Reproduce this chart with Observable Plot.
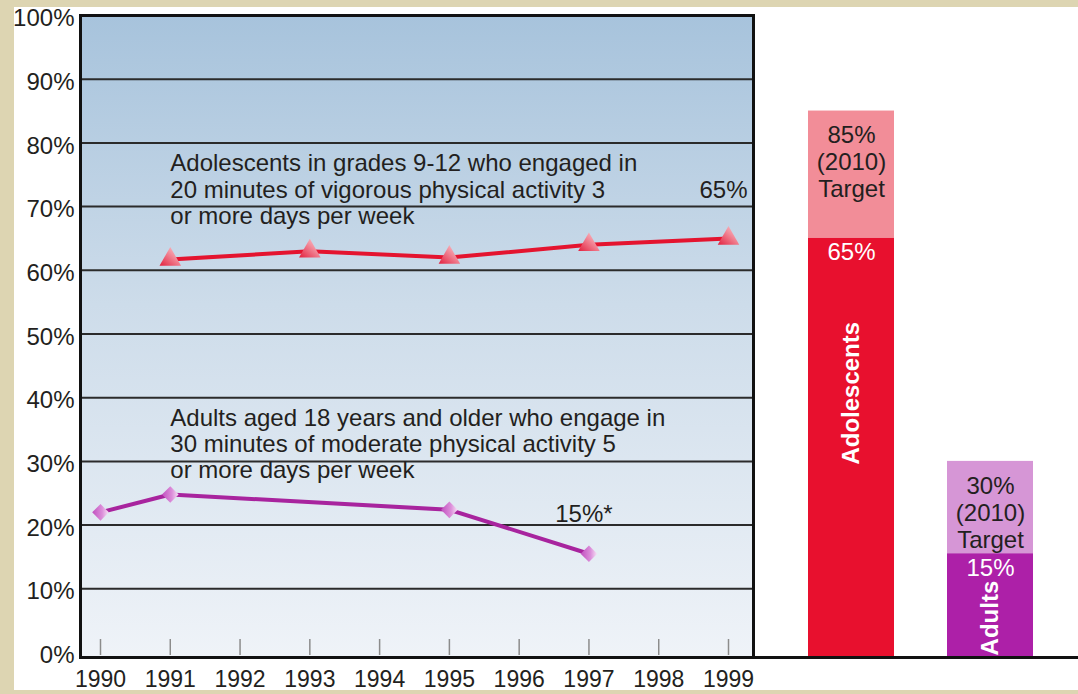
<!DOCTYPE html>
<html><head><meta charset="utf-8">
<script src="https://cdn.jsdelivr.net/npm/d3@7"></script>
<script src="https://cdn.jsdelivr.net/npm/@observablehq/plot@0.6"></script>
<style>
body{margin:0;background:#ddd5b2;}
#wrap{position:relative;width:1078px;height:694px;overflow:hidden;background:#ddd5b2;}
#panel{position:absolute;left:14px;top:7px;width:1064px;height:683px;background:#fff;}
#left,#right{position:absolute;top:0;}
#left{left:0;}
#right{left:760px;}
#bottomStrip{position:absolute;left:0;top:690px;width:1078px;height:4px;background:#ddd5b2;}
</style></head><body>
<div id="wrap"><div id="panel"></div><div id="left"></div><div id="right"></div><div id="bottomStrip"></div></div>
<script>
// ---- data ----
const years = [1990, 1991, 1992, 1993, 1994, 1995, 1996, 1997, 1998, 1999];
const yTicks = [0, 10, 20, 30, 40, 50, 60, 70, 80, 90, 100];
const gridValues = [10, 20, 30, 40, 50, 60, 70, 80, 90];

const adolYears = [1991, 1993, 1995, 1997, 1999];
const adolValues = [61.7, 63.0, 62.0, 64.0, 65.0];

const adultYears = [1990, 1991, 1995, 1997];
const adultValues = [22.0, 24.8, 22.4, 15.5];

const annoText = [
  "Adolescents in grades 9-12 who engaged in\n20 minutes of vigorous physical activity 3\nor more days per week",
  "Adults aged 18 years and older who engage in\n30 minutes of moderate physical activity 5\nor more days per week"
];
const annoX = [1991, 1991];
const annoY = [72.7, 32.8];

const endLabels = ["65%", "15%*"];
const endX = [1999, 1997];
const endY = [72.5, 21.7];

const barGroups = ["Adolescents", "Adults"];
const currentValues = [65, 15.5];
const targetValues = [85, 30];
const currentLabels = ["65%", "15%"];
const targetLabels = ["85%\n(2010)\nTarget", "30%\n(2010)\nTarget"];
const groupLabelY = [40.7, 5.4];
const nowColors = ["#e8102e", "#ad20a8"];
const targetColors = ["#f28d98", "#d696d6"];

// ---- tables ----
const adolData = adolYears.map((year, i) => ({year, value: adolValues[i]}));
const adultData = adultYears.map((year, i) => ({year, value: adultValues[i]}));
const annoData = annoText.map((text, i) => ({text, x: annoX[i], y: annoY[i]}));
const endData = endLabels.map((text, i) => ({text, x: endX[i], y: endY[i]}));
const barData = barGroups.map((group, i) => ({
  group, now: currentValues[i], target: targetValues[i],
  nowLabel: currentLabels[i], targetLabel: targetLabels[i],
  labelY: groupLabelY[i], fillNow: nowColors[i], fillTarget: targetColors[i]
}));

const FONT = '"Liberation Sans", Arial, Helvetica, sans-serif';
const FS = 24;
const H = 694, MT = 15, MB = 42;
const INK = "#231f20";

const defs = () => {
  const d = d3.create("svg:defs");
  const g = d.append("linearGradient").attr("id", "bgGrad").attr("x1", 0).attr("y1", 0).attr("x2", 0).attr("y2", 1);
  g.append("stop").attr("offset", "0%").attr("stop-color", "#a7c3dc");
  g.append("stop").attr("offset", "45%").attr("stop-color", "#cddcea");
  g.append("stop").attr("offset", "100%").attr("stop-color", "#eff3f8");
  const t = d.append("linearGradient").attr("id", "triGrad").attr("x1", 0).attr("y1", 1).attr("x2", 1).attr("y2", 0);
  t.append("stop").attr("offset", "0%").attr("stop-color", "#e2203e");
  t.append("stop").attr("offset", "60%").attr("stop-color", "#f3909e");
  t.append("stop").attr("offset", "100%").attr("stop-color", "#fbd3d9");
  const m = d.append("linearGradient").attr("id", "diaGrad").attr("x1", 0).attr("y1", 0.5).attr("x2", 1).attr("y2", 0.5);
  m.append("stop").attr("offset", "0%").attr("stop-color", "#c14fbf");
  m.append("stop").attr("offset", "60%").attr("stop-color", "#dc8fda");
  m.append("stop").attr("offset", "100%").attr("stop-color", "#f7e3f6");
  return d.node();
};

const left = Plot.plot({
  width: 760, height: H,
  marginLeft: 80, marginRight: 7, marginTop: MT, marginBottom: MB,
  style: {background: "transparent", fontFamily: FONT, fontSize: FS + "px", color: INK, overflow: "visible"},
  x: {domain: [1990, 1999], insetLeft: 20, insetRight: 25},
  y: {domain: [0, 100]},
  marks: [
    defs,
    Plot.frame({fill: "url(#bgGrad)", insetBottom: -5}),
    Plot.ruleY(gridValues, {stroke: "#2b2b2b", strokeWidth: 2}),
    Plot.tickX(years, {x: d => d, stroke: "#8c8c8c", strokeWidth: 1.5, insetTop: 624, insetBottom: -3}),
    Plot.line(adolData, {x: "year", y: "value", stroke: "#e4142f", strokeWidth: 4}),
    Plot.dot(adolData, {x: "year", y: "value", symbol: "triangle", r: 8, fill: "url(#triGrad)"}),
    Plot.line(adultData, {x: "year", y: "value", stroke: "#a8249e", strokeWidth: 4}),
    Plot.dot(adultData, {x: "year", y: "value", symbol: "diamond2", r: 7.5, fill: "url(#diaGrad)"}),
    Plot.text(annoData, {x: "x", y: "y", text: "text", textAnchor: "start", lineAnchor: "middle", lineHeight: 1.1, fill: INK, fontSize: FS}),
    Plot.text(endData, {x: "x", y: "y", text: "text", dx: -5, fill: INK, fontSize: FS}),
    Plot.frame({stroke: "#111", strokeWidth: 3, insetBottom: -5}),
    Plot.ruleY([0], {dy: 5, stroke: "#111", strokeWidth: 3, insetRight: -7}),
    Plot.axisY(yTicks, {tickSize: 0, tickPadding: 6, dy: 3, tickFormat: d => d + "%", label: null, fill: INK, fontSize: FS}),
    Plot.axisX(years, {tickSize: 0, tickPadding: 18, tickFormat: d => String(d), label: null, fill: INK, fontSize: 23})
  ]
});
document.getElementById("left").append(left);

const right = Plot.plot({
  width: 318, height: H,
  marginLeft: 22, marginRight: 18, marginTop: MT, marginBottom: MB,
  style: {background: "transparent", fontFamily: FONT, fontSize: FS + "px", color: INK, overflow: "visible"},
  x: {domain: barGroups, paddingInner: 0.378, paddingOuter: 0.189, axis: null},
  y: {domain: [0, 100], axis: null},
  color: {type: "identity"},
  marks: [
    Plot.barY(barData, {x: "group", y1: "now", y2: "target", fill: "fillTarget"}),
    Plot.barY(barData, {x: "group", y1: 0, y2: "now", fill: "fillNow", insetBottom: -5}),
    Plot.text(barData, {x: "group", y: "target", text: "targetLabel", lineAnchor: "top", dy: 13, lineHeight: 1.125, fill: INK, fontSize: FS}),
    Plot.text(barData, {x: "group", y: "now", text: "nowLabel", lineAnchor: "top", dy: 5, fill: "white", fontSize: FS}),
    Plot.text(barData, {x: "group", y: "labelY", text: "group", rotate: -90, fill: "white", fontWeight: "bold", fontSize: FS}),
    Plot.ruleY([0], {dy: 5, stroke: "#111", strokeWidth: 3, insetLeft: -22, insetRight: -18})
  ]
});
document.getElementById("right").append(right);
</script>
</body></html>
